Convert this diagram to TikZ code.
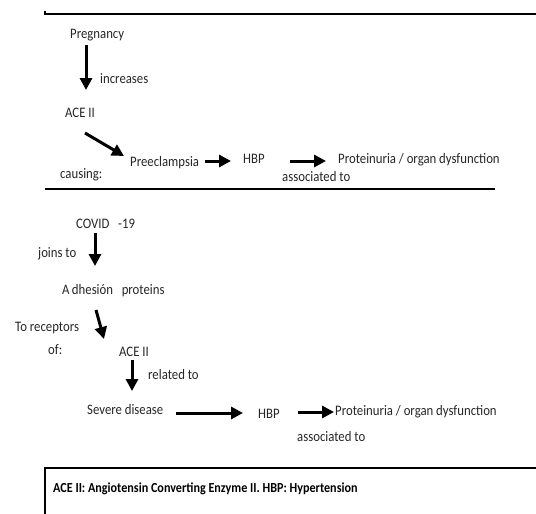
\documentclass[tikz,border=0pt]{standalone}
\usepackage{fontspec}
\setmainfont{Carlito}[FakeStretch=0.88]
\usetikzlibrary{arrows.meta}
\begin{document}
\begin{tikzpicture}[x=1pt,y=-1pt,
  lbl/.style={anchor=base west,inner sep=0pt,font=\fontsize{14.5}{16}\selectfont,text=black!85},
  foot/.style={anchor=base west,inner sep=0pt,font=\bfseries\fontsize{13.8}{15}\selectfont},
  arr/.style={line width=3pt,-{Triangle[length=12pt,width=12pt]}},
  rule/.style={line width=2.8pt}]
\useasboundingbox (0,0) rectangle (536,514);
% rules
\draw[rule] (45,11) -- (45,14) -- (540,14);
\draw[rule] (45,189) -- (495,189);
\draw[line width=2pt] (45,520) -- (45,468) -- (540,468);
% part 1
\node[lbl] (preg) at (70,38) {Pregnancy};
\node[lbl] (incr) at (100,83) {increases};
\node[lbl] (ace1) at (65,117) {ACE II};
\node[lbl] (caus) at (60,178) {causing:};
\node[lbl] (pre) at (130,166) {Preeclampsia};
\node[lbl] (hbp1) at (243,163) {HBP};
\node[lbl] (prot1) at (338,163) {Proteinuria / organ dysfunction};
\node[lbl] (asso1) at (282,181) {associated to};
\coordinate (a1s) at (86,45);   \coordinate (a1e) at (86,90);
\coordinate (a2s) at (85,133);  \coordinate (a2e) at (124,156);
\coordinate (a3s) at (205,161); \coordinate (a3e) at (231,161);
\coordinate (a4s) at (290,161); \coordinate (a4e) at (326,161);
\draw[arr] (a1s) -- (a1e);
\draw[arr] (a2s) -- (a2e);
\draw[arr] (a3s) -- (a3e);
\draw[arr] (a4s) -- (a4e);
% part 2
\node[lbl] (covid) at (76,228) {COVID\hspace{0.6em}-19};
\node[lbl] (joins) at (38,257) {joins to};
\node[lbl] (adh) at (62,294) {A\,dhesi\'on\hspace{0.6em}proteins};
\node[lbl] (torec) at (15,331) {To receptors};
\node[lbl] (of) at (48,354) {of:};
\node[lbl] (ace2) at (119,356) {ACE II};
\node[lbl] (rel) at (148,379) {related to};
\node[lbl] (sev) at (87,414) {Severe disease};
\node[lbl] (hbp2) at (258,418) {HBP};
\node[lbl] (prot2) at (335,415) {Proteinuria / organ dysfunction};
\node[lbl] (asso2) at (297,441) {associated to};
\coordinate (b1s) at (95,233);  \coordinate (b1e) at (95,266);
\coordinate (b2s) at (96,310);  \coordinate (b2e) at (104,339);
\coordinate (b3s) at (132,360); \coordinate (b3e) at (132,391);
\coordinate (b4s) at (176,413); \coordinate (b4e) at (243,413);
\coordinate (b5s) at (298,412); \coordinate (b5e) at (334,412);
\draw[arr] (b1s) -- (b1e);
\draw[arr] (b2s) -- (b2e);
\draw[arr] (b3s) -- (b3e);
\draw[arr] (b4s) -- (b4e);
\draw[arr] (b5s) -- (b5e);
% footnote
\node[foot] (note) at (53,492) {ACE II: Angiotensin Converting Enzyme II. HBP: Hypertension};
\end{tikzpicture}
\end{document}
